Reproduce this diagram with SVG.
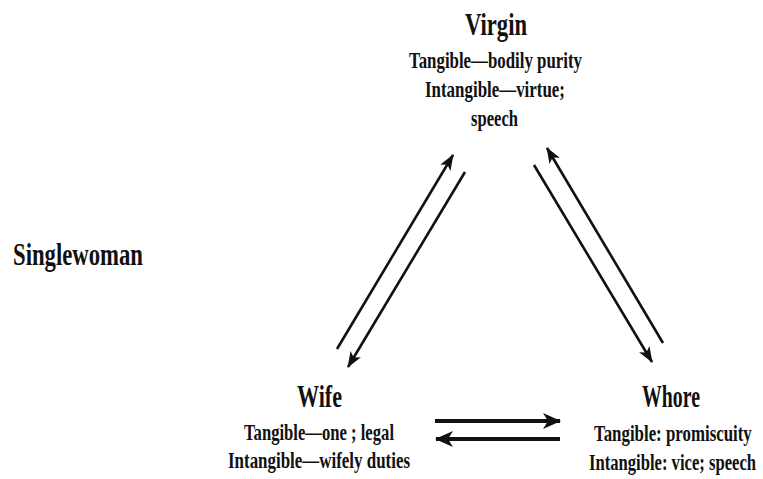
<svg xmlns="http://www.w3.org/2000/svg" width="763" height="479" viewBox="0 0 763 479">
<style>
text{font-family:"Liberation Serif","DejaVu Serif",serif;font-weight:bold;fill:#111;}
.t{font-size:32px;}
.s{font-size:23px;}
.c{stroke:#111;fill:none;stroke-width:2.6;}
.b{stroke:#111;fill:none;stroke-width:4;}
</style>
<defs>
<marker id="ah" viewBox="0 0 16 12" refX="15" refY="6" markerWidth="16" markerHeight="12" markerUnits="userSpaceOnUse" orient="auto">
<path d="M0,0 L16,6 L0,12 L4,6 z" fill="#111"/>
</marker>
<marker id="ab" viewBox="0 0 18 16" refX="17" refY="8" markerWidth="18" markerHeight="16" markerUnits="userSpaceOnUse" orient="auto">
<path d="M0,0 L18,8 L0,16 L5,8 z" fill="#111"/>
</marker>
</defs>
<rect width="763" height="479" fill="#fff"/>
<g id="virgin">
<text class="t" x="465" y="35" textLength="62" lengthAdjust="spacingAndGlyphs">Virgin</text>
<text class="s" x="409" y="68" textLength="173" lengthAdjust="spacingAndGlyphs">Tangible—bodily purity</text>
<text class="s" x="425" y="97" textLength="140" lengthAdjust="spacingAndGlyphs">Intangible—virtue;</text>
<text class="s" x="471" y="126" textLength="47" lengthAdjust="spacingAndGlyphs">speech</text>
</g>
<g id="singlewoman">
<text class="t" x="13" y="265" textLength="130" lengthAdjust="spacingAndGlyphs">Singlewoman</text>
</g>
<g id="wife">
<text class="t" x="297" y="407" textLength="45" lengthAdjust="spacingAndGlyphs">Wife</text>
<text class="s" x="244" y="440" textLength="150" lengthAdjust="spacingAndGlyphs">Tangible—one ; legal</text>
<text class="s" x="228" y="468" textLength="182" lengthAdjust="spacingAndGlyphs">Intangible—wifely duties</text>
</g>
<g id="whore">
<text class="t" x="642" y="407" textLength="58" lengthAdjust="spacingAndGlyphs">Whore</text>
<text class="s" transform="translate(594,441) scale(0.68,1)" x="0" y="0" textLength="232" lengthAdjust="spacingAndGlyphs">Tangible: promiscuity</text>
<text class="s" transform="translate(589,470) scale(0.65,1)" x="0" y="0" textLength="257" lengthAdjust="spacingAndGlyphs">Intangible: vice; speech</text>
</g>
<g id="connectors">
<line class="c" x1="337" y1="349" x2="453" y2="155" marker-end="url(#ah)"/>
<line class="c" x1="465" y1="172" x2="348" y2="367" marker-end="url(#ah)"/>
<line class="c" x1="663" y1="343" x2="547" y2="148" marker-end="url(#ah)"/>
<line class="c" x1="534" y1="165" x2="652" y2="362" marker-end="url(#ah)"/>
<line class="b" x1="435" y1="421" x2="560" y2="421" marker-end="url(#ab)"/>
<line class="b" x1="560" y1="439" x2="436" y2="439" marker-end="url(#ab)"/>
</g>
</svg>
